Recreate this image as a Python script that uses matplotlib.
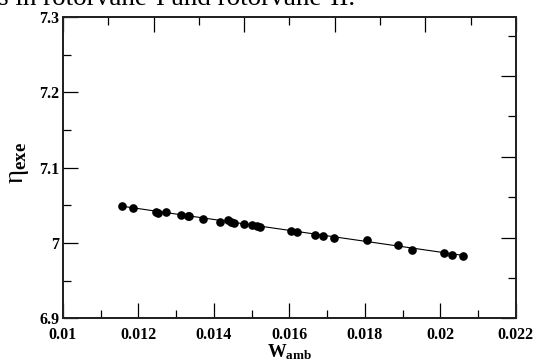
import numpy as np
import matplotlib
matplotlib.use('Agg')
import matplotlib.pyplot as plt
from matplotlib.ticker import MultipleLocator

plt.rcParams['font.family'] = 'Liberation Serif'
plt.rcParams['mathtext.fontset'] = 'custom'
plt.rcParams['mathtext.rm'] = 'Liberation Serif'
plt.rcParams['mathtext.bf'] = 'Liberation Serif:bold'
plt.rcParams['mathtext.it'] = 'Liberation Serif:italic'

# data
w_amb = [0.01157, 0.01186, 0.01246, 0.01253, 0.01272, 0.01312, 0.01330, 0.01335,
         0.01372, 0.01415, 0.01438, 0.01446, 0.01454, 0.01479, 0.01501, 0.01513,
         0.01522, 0.01603, 0.01621, 0.01669, 0.01689, 0.01719, 0.01805, 0.01887,
         0.01926, 0.02010, 0.02031, 0.02060]
eta_exe = [7.0489, 7.0462, 7.0413, 7.0400, 7.0418, 7.0373, 7.0356, 7.0356,
           7.0324, 7.0276, 7.0302, 7.0280, 7.0267, 7.0249, 7.0236, 7.0227,
           7.0213, 7.0156, 7.0147, 7.0102, 7.0093, 7.0071, 7.0040, 6.9969,
           6.9902, 6.9871, 6.9840, 6.9822]
fit_x = [0.01157, 0.02060]
fit_y = [7.0488, 6.9836]

fig = plt.figure(figsize=(5.36, 3.61), dpi=100)
ax = fig.add_axes([0.1175, 0.118, 0.845, 0.835])

ax.plot(fit_x, fit_y, color='black', lw=0.8, zorder=2)
ax.plot(w_amb, eta_exe, 'o', color='black', ms=5.2, zorder=3)

ax.set_xlim(0.01, 0.022)
ax.set_ylim(6.9, 7.3)
ax.xaxis.set_minor_locator(MultipleLocator(0.001))
ax.yaxis.set_minor_locator(MultipleLocator(0.05))
ax.set_xticks([0.01, 0.012, 0.014, 0.016, 0.018, 0.02, 0.022])
ax.set_xticklabels(['0.01', '0.012', '0.014', '0.016', '0.018', '0.02', '0.022'])
ax.set_yticks([6.9, 7.0, 7.1, 7.2, 7.3])
ax.set_yticklabels(['6.9', '7', '7.1', '7.2', '7.3'])

ax.tick_params(which='major', direction='in', length=11, width=0.9, labelsize=11.5)
ax.tick_params(which='minor', direction='in', length=5.8, width=0.9)
ax.tick_params(axis='x', which='major', pad=6.5)
ax.tick_params(axis='y', which='major', pad=2.5)
for lab in ax.get_xticklabels() + ax.get_yticklabels():
    lab.set_fontweight('bold')

# extra scales on top and right (ticks only)
top = ax.twiny()
top.set_xlim(0, 5)
top.xaxis.set_major_locator(MultipleLocator(1))
top.xaxis.set_minor_locator(MultipleLocator(0.5))
top.tick_params(which='major', direction='in', length=11, width=0.9, labeltop=False)
top.tick_params(which='minor', direction='in', length=5.8, width=0.9)

right = ax.twinx()
right.set_ylim(0, 3.731)
right.yaxis.set_major_locator(MultipleLocator(1))
right.yaxis.set_minor_locator(MultipleLocator(0.5))
right.tick_params(which='major', direction='in', length=11, width=0.9, labelright=False)
right.tick_params(which='minor', direction='in', length=5.8, width=0.9)

for a in (ax, top, right):
    for s in a.spines.values():
        s.set_linewidth(1.2)
        s.set_color('#222222')

ax.set_xlabel(r'$\mathbf{W}_{\mathbf{amb}}$', fontsize=13.5, labelpad=-1)
ax.set_ylabel(r'$\mathrm{\eta}_{\mathbf{exe}}$', fontsize=19.5)
ax.yaxis.set_label_coords(-0.07, 0.515)

fig.text(-0.004, 0.986, 's in rotorvane-I and rotorvane-II.', fontsize=19.5,
         ha='left', va='baseline')

fig.savefig('out.png', dpi=100)
